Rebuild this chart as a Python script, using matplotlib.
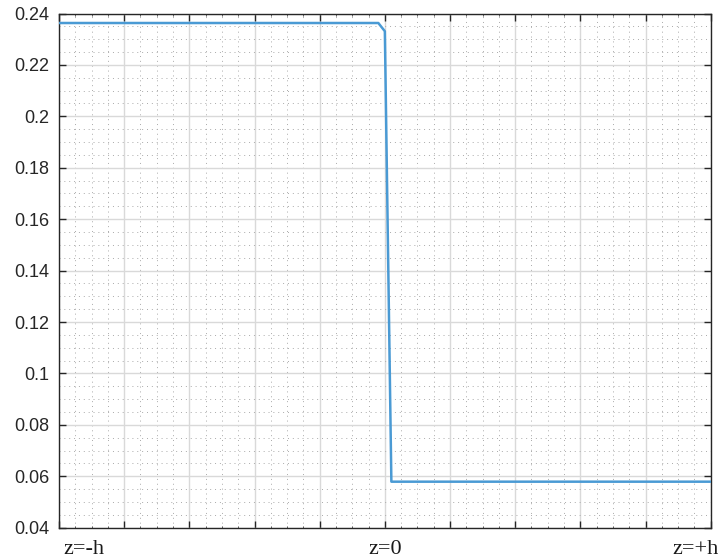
import numpy as np
import matplotlib
matplotlib.use("Agg")
import matplotlib.pyplot as plt
from matplotlib.ticker import MultipleLocator
from matplotlib.transforms import blended_transform_factory

# profile across the layer thickness, z normalised to [-h, +h]
z_pos = [-1.0, -0.02, 0.0, 0.02, 1.0]
values = [0.2363, 0.2363, 0.2331, 0.0579, 0.0579]

x_tick_pos = [-1.0, 0.0, 1.0]
x_tick_labels = ["z=-h", "z=0", "z=+h"]
y_ticks = [0.04, 0.06, 0.08, 0.10, 0.12, 0.14, 0.16, 0.18, 0.20, 0.22, 0.24]
y_tick_labels = ["0.04", "0.06", "0.08", "0.1", "0.12", "0.14", "0.16",
                 "0.18", "0.2", "0.22", "0.24"]

fig = plt.figure(figsize=(7.18, 5.60), dpi=100)
ax = fig.add_axes([59 / 718, 1 - 527.7 / 560, (710.7 - 59) / 718, (527.7 - 13.5) / 560])

ax.plot(z_pos, values, color="#4a9ad4", lw=1.8, solid_joinstyle="round", zorder=3)

ax.set_xlim(-1, 1)
ax.set_ylim(0.04, 0.24)

ax.xaxis.set_major_locator(MultipleLocator(0.2))
ax.xaxis.set_minor_locator(MultipleLocator(0.05))
ax.set_yticks(y_ticks)
ax.set_yticklabels(y_tick_labels, family="Liberation Sans", fontsize=13, color="#262626")
ax.yaxis.set_minor_locator(MultipleLocator(0.005))
ax.set_xticklabels([])

ax.grid(which="major", color="#d9d9d9", lw=1.0, ls="-", zorder=0)
ax.grid(which="minor", color="#aaaaaa", lw=0.7, ls=(0, (1, 4)), zorder=0)

ax.tick_params(which="major", direction="in", length=5, width=1, color="#262626",
               top=True, right=True, pad=7)
ax.tick_params(axis="x", which="minor", direction="in", length=1.5, width=0.6,
               color="#262626", top=True)
ax.tick_params(axis="y", which="minor", length=0)
for s in ax.spines.values():
    s.set_color("#262626")
    s.set_linewidth(1.0)

# x labels placed at the ends and centre of the thickness
trans = blended_transform_factory(ax.transData, ax.transAxes)
aligns = ["left", "center", "right"]
offsets = [3, 0, 6]
for xp, lab, ha, dx in zip(x_tick_pos, x_tick_labels, aligns, offsets):
    ax.annotate(lab, xy=(xp, 0), xycoords=trans, xytext=(dx, -9),
                textcoords="offset points", ha=ha, va="top",
                family="Liberation Serif", fontsize=16, color="#1a1a1a",
                annotation_clip=False)

fig.savefig("out.png", dpi=100, facecolor="white")
